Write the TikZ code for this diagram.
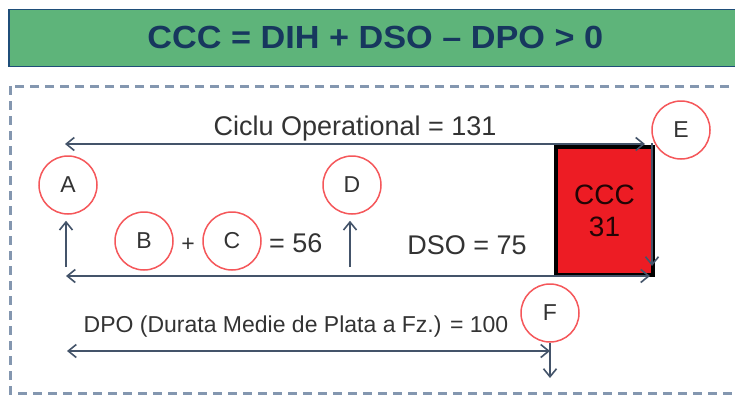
\documentclass[tikz,border=0pt]{standalone}
\usepackage{fontspec}
\setmainfont{Liberation Sans}
\usetikzlibrary{arrows.meta}
\definecolor{bannergreen}{HTML}{5EB47A}
\definecolor{titleblue}{HTML}{17375E}
\definecolor{edgeblue}{HTML}{1F4E79}
\definecolor{dashgray}{HTML}{8497B0}
\definecolor{arrowslate}{HTML}{44546A}
\definecolor{circred}{HTML}{F5575A}
\definecolor{boxred}{HTML}{ED1C24}
\definecolor{txt}{HTML}{333333}
\begin{document}
\begin{tikzpicture}[x=1pt,y=-1pt,
  conn/.style={draw=arrowslate, line width=1.6pt},
  tipboth/.style={conn, {Straight Barb[length=8pt,width=13pt]}-{Straight Barb[length=8pt,width=13pt]}},
  tipend/.style={conn, -{Straight Barb[length=8pt,width=13pt]}},
  letter/.style={circle, draw=circred, line width=1.5pt, minimum size=58pt, inner sep=0pt, text=txt, font=\fontsize{23}{26}\selectfont},
  lbl/.style={anchor=base, inner sep=0pt, text=txt, font=\fontsize{27}{32}\selectfont},
  smalllbl/.style={anchor=base, inner sep=0pt, text=txt, font=\fontsize{23}{26}\selectfont}]
\useasboundingbox (0,0) rectangle (735,394);
\clip (0,0) rectangle (735,394);
\fill[white] (0,0) rectangle (735,394);

% banner
\node (banner) [draw=edgeblue, fill=bannergreen, line width=1.5pt, minimum width=733pt, minimum height=57pt, inner sep=0pt, anchor=north west, text=titleblue, font=\fontsize{32}{36}\selectfont\bfseries] at (8,8.5)
  {\scalebox{1.07}[1]{CCC = DIH + DSO -- DPO > 0}};

% dashed frame
\draw[dashgray, line width=3pt, dash pattern=on 9pt off 6pt] (10,86) rectangle (760,393);

% red box
\node (ccc) [draw=black, line width=4pt, fill=boxred, minimum width=97pt, minimum height=128pt, inner sep=0pt, anchor=north west, align=center, text=black!85!boxred, font=\fontsize{28}{32}\selectfont] at (554,145) {CCC\\31};

% circles
\node (A) [letter] at (68,185) {A};
\node (D) [letter] at (352,185) {D};
\node (B) [letter] at (144,241) {B};
\node (C) [letter] at (232,241) {C};
\node (E) [letter] at (681,130) {E};
\node (F) [letter] at (550,313) {F};

% coordinates
\coordinate (c1) at (65,144);
\coordinate (c2) at (645,144);
\coordinate (b1) at (66,276);
\coordinate (b2) at (650,276);
\coordinate (d1) at (67,351);
\coordinate (d2) at (550,351);
\coordinate (a0) at (66,267);
\coordinate (dd0) at (350,267);
\coordinate (fdown) at (550,378);
\coordinate (r1) at (652,143);
\coordinate (r2) at (652,266);

% arrows
\draw[tipboth] (c1) -- (c2);
\draw[tipboth] (b1) -- (b2);
\draw[tipboth] (d1) -- (d2);
\draw[tipend, shorten >=6pt] (a0) -- (a0 |- A.south);
\draw[tipend, shorten >=6pt] (dd0) -- (dd0 |- D.south);
\draw[tipend] (F.south) -- (fdown);
\draw[tipend] (r1) -- (r2);

% labels
\node (ciclu) [lbl] at (355,135) {Ciclu Operational = 131};
\node (plus) [smalllbl] at (188,251) {+};
\node (eq56) [lbl, anchor=base west] at (269,252) {= 56};
\node (dso) [lbl] at (467,254) {DSO = 75};
\node (dpo) [smalllbl] at (296,332) {DPO (Durata Medie de Plata a Fz.) = 100};
\end{tikzpicture}
\end{document}
